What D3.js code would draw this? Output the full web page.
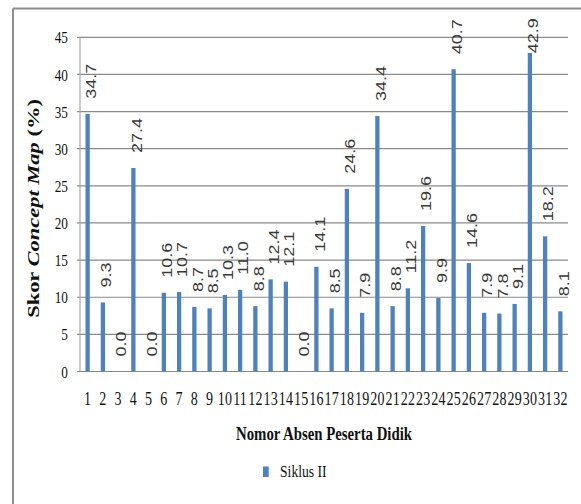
<!DOCTYPE html>
<html>
<head>
<meta charset="utf-8">
<script src="https://cdn.jsdelivr.net/npm/d3@7"></script>
<style>
  html, body { margin: 0; padding: 0; background: #fff; }
  svg { display: block; }
</style>
</head>
<body>
<script>
// Nomor absen (student numbers) along the x axis
const students = ["1","2","3","4","5","6","7","8","9","10","11","12","13","14","15","16",
                  "17","18","19","20","21","22","23","24","25","26","27","28","29","30","31","32"];
// Skor Concept Map (%) for Siklus II
const siklus2 = [34.7, 9.3, 0.0, 27.4, 0.0, 10.6, 10.7, 8.7, 8.5, 10.3, 11.0, 8.8, 12.4, 12.1, 0.0, 14.1,
                 8.5, 24.6, 7.9, 34.4, 8.8, 11.2, 19.6, 9.9, 40.7, 14.6, 7.9, 7.8, 9.1, 42.9, 18.2, 8.1];
const yTicks = [0, 5, 10, 15, 20, 25, 30, 35, 40, 45];
const seriesName = "Siklus II";

const W = 581, H = 504;
const plot = { left: 80, right: 568, top: 37.3, bottom: 371.5 };
const sx = 0.78;               // horizontal condensing of all text
const barColor = "#4F81BD";
const serif = "'Liberation Serif', 'Times New Roman', serif";
const sans = "'Liberation Sans', Arial, sans-serif";

const svg = d3.select("body").append("svg").attr("width", W).attr("height", H);

// outer frame (top and left edges)
svg.append("line").attr("x1", 13).attr("x2", W).attr("y1", 8.5).attr("y2", 8.5)
  .attr("stroke", "#8c8c8c").attr("stroke-width", 2);
svg.append("line").attr("x1", 13).attr("x2", 13).attr("y1", 8.5).attr("y2", H)
  .attr("stroke", "#8c8c8c").attr("stroke-width", 2);

const x = d3.scaleBand().domain(students).range([plot.left, plot.right])
  .paddingInner(0.72).paddingOuter(0.36);
const y = d3.scaleLinear().domain([0, 45]).range([plot.bottom, plot.top]);

// gridlines
svg.append("g").selectAll("line").data(yTicks.filter(t => t > 0)).join("line")
  .attr("x1", plot.left - 3).attr("x2", plot.right)
  .attr("y1", d => y(d)).attr("y2", d => y(d))
  .attr("stroke", "#8a8a8a").attr("stroke-width", 1.2);

// y axis line + baseline at zero
svg.append("line").attr("x1", plot.left).attr("x2", plot.left)
  .attr("y1", plot.top).attr("y2", plot.bottom)
  .attr("stroke", "#a8a8a8").attr("stroke-width", 1.2);
svg.append("line").attr("x1", plot.left - 3).attr("x2", plot.right)
  .attr("y1", y(0)).attr("y2", y(0))
  .attr("stroke", "#8a8a8a").attr("stroke-width", 1.2);

// y tick labels
svg.append("g").selectAll("text").data(yTicks).join("text")
  .attr("transform", d => `translate(68,${y(d)}) scale(${sx},1)`)
  .attr("text-anchor", "end").attr("dominant-baseline", "central")
  .attr("font-family", serif).attr("font-size", 17).attr("fill", "#111")
  .text(d => d);

// x tick labels
svg.append("g").selectAll("text").data(students).join("text")
  .attr("transform", d => `translate(${x(d) + x.bandwidth() / 2},405) scale(${sx},1)`)
  .attr("text-anchor", "middle")
  .attr("font-family", serif).attr("font-size", 18).attr("fill", "#111")
  .text(d => d);

// bars
svg.append("g").selectAll("rect").data(siklus2).join("rect")
  .attr("x", (d, i) => x(students[i]))
  .attr("width", x.bandwidth())
  .attr("y", d => y(d))
  .attr("height", d => y(0) - y(d))
  .attr("fill", barColor);

// value labels, rotated, above each bar
const gap = 15, topLimit = plot.top + 16;
svg.append("g").selectAll("text").data(siklus2).join("text")
  .attr("transform", (d, i) => {
    const cx = x(students[i]) + x.bandwidth() / 2 + 3;
    const cy = Math.max(y(d) - gap, topLimit);
    return `translate(${cx},${cy}) scale(${sx},1) rotate(-90)`;
  })
  .attr("text-anchor", "start").attr("dominant-baseline", "central")
  .attr("font-family", sans).attr("font-size", 18).attr("fill", "#3a3a3a")
  .text(d => d.toFixed(1));

// y axis title
const yTitle = svg.append("text")
  .attr("transform", `translate(33,208.5) scale(${sx},1) rotate(-90)`)
  .attr("text-anchor", "middle").attr("dominant-baseline", "central")
  .attr("font-family", serif).attr("font-size", 22.5).attr("font-weight", "bold").attr("fill", "#111");
yTitle.append("tspan").text("Skor ");
yTitle.append("tspan").attr("font-style", "italic").text("Concept Map");
yTitle.append("tspan").text(" (%)");

// x axis title
svg.append("text")
  .attr("transform", `translate(${(plot.left + plot.right) / 2},440) scale(${sx},1)`)
  .attr("text-anchor", "middle")
  .attr("font-family", serif).attr("font-size", 19).attr("font-weight", "bold").attr("fill", "#111")
  .text("Nomor Absen Peserta Didik");

// legend
const legend = svg.append("g");
legend.append("rect").attr("x", 263).attr("y", 466.5).attr("width", 5.7).attr("height", 10.5)
  .attr("fill", barColor);
legend.append("text")
  .attr("transform", `translate(280,477) scale(${sx},1)`)
  .attr("font-family", serif).attr("font-size", 17.5).attr("fill", "#111")
  .text(seriesName);
</script>
</body>
</html>
